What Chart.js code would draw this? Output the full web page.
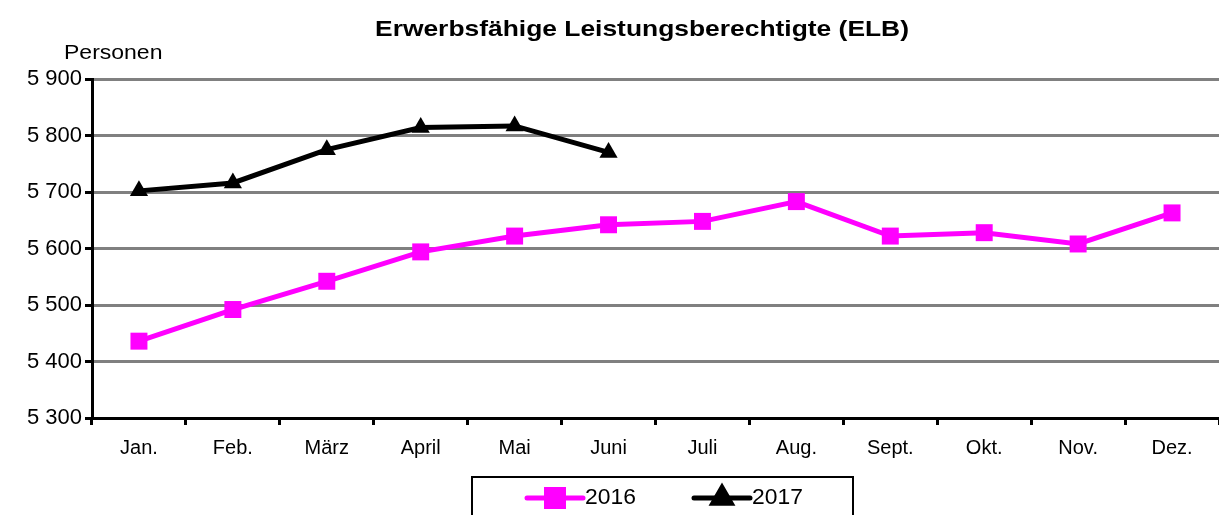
<!DOCTYPE html>
<html>
<head>
<meta charset="utf-8">
<script src="https://cdn.jsdelivr.net/npm/chart.js@4"></script>
<style>
  html, body { margin: 0; padding: 0; background: #fff; }
  canvas { display: block; }
</style>
</head>
<body>
<canvas id="chart" width="1219" height="515"></canvas>
<script>
const months = ['Jan.', 'Feb.', 'März', 'April', 'Mai', 'Juni', 'Juli', 'Aug.', 'Sept.', 'Okt.', 'Nov.', 'Dez.'];
const elb2016 = [5436, 5492, 5542, 5594, 5622, 5642, 5648, 5683, 5622, 5628, 5608, 5663];
const elb2017 = [5702, 5716, 5775, 5814, 5817, 5770];
const seriesNames = ['2016', '2017'];
const chartTitle = 'Erwerbsfähige Leistungsberechtigte (ELB)';
const yAxisTitle = 'Personen';

const FONT = 'Arial, "Liberation Sans", sans-serif';
const PINK = '#ff00ff';

// stretched text, the original export is wider than tall
function wideText(ctx, text, x, y, font, sx, align) {
  ctx.save();
  ctx.font = font;
  ctx.textAlign = align;
  ctx.translate(x, y);
  ctx.scale(sx, 1);
  ctx.fillText(text, 0, 0);
  ctx.restore();
}

// title, unit label and the framed legend are drawn by hand
const extras = {
  id: 'extras',
  afterDraw(chart) {
    const ctx = chart.ctx;
    ctx.save();
    ctx.fillStyle = '#000';
    ctx.textBaseline = 'middle';

    wideText(ctx, chartTitle, 642, 30, 'bold 22px ' + FONT, 1.2, 'center');
    wideText(ctx, yAxisTitle, 64, 53, '20px ' + FONT, 1.15, 'left');

    // legend frame
    ctx.strokeStyle = '#000';
    ctx.lineWidth = 2;
    ctx.strokeRect(472, 477, 381, 50);

    const items = [
      { x: 527, color: PINK, style: 'rect', radius: 12 },
      { x: 694, color: '#000', style: 'triangle', radius: 10.5 }
    ];
    items.forEach((it, i) => {
      const y = 498;
      ctx.strokeStyle = it.color;
      ctx.lineWidth = 5;
      ctx.lineCap = 'round';
      ctx.beginPath();
      ctx.moveTo(it.x, y);
      ctx.lineTo(it.x + 56, y);
      ctx.stroke();
      Chart.helpers.drawPoint(ctx, {
        pointStyle: it.style, radius: it.radius, borderWidth: 1
      }, it.x + 28, y);
      ctx.fillStyle = it.color;
      ctx.fill();
      ctx.fillStyle = '#000';
      wideText(ctx, seriesNames[i], it.x + 58, y, '22px ' + FONT, 1.04, 'left');
    });
    ctx.restore();
  }
};

const fmt = v => {
  const s = String(v);
  return s.slice(0, s.length - 3) + ' ' + s.slice(-3);
};

new Chart(document.getElementById('chart'), {
  type: 'line',
  data: {
    labels: months,
    datasets: [
      {
        label: seriesNames[0],
        data: elb2016,
        borderColor: PINK,
        backgroundColor: PINK,
        borderWidth: 5,
        pointStyle: 'rect',
        pointRadius: 12,
        pointBorderWidth: 0,
        tension: 0
      },
      {
        label: seriesNames[1],
        data: elb2017,
        borderColor: '#000',
        backgroundColor: '#000',
        borderWidth: 5,
        pointStyle: 'triangle',
        pointRadius: 10.5,
        pointBorderWidth: 0,
        tension: 0
      }
    ]
  },
  options: {
    responsive: false,
    animation: false,
    layout: { autoPadding: false, padding: { top: 79, left: 0, right: 0, bottom: 0 } },
    plugins: {
      legend: { display: false },
      title: { display: false },
      tooltip: { enabled: false }
    },
    scales: {
      x: {
        offset: true,
        afterFit: scale => { scale.height = 97; },
        grid: {
          offset: true,
          drawOnChartArea: false,
          tickColor: '#000',
          tickWidth: 3,
          tickLength: 7
        },
        border: { color: '#000', width: 3 },
        ticks: {
          color: '#000',
          padding: 11,
          font: { family: FONT, size: 20 },
          maxRotation: 0
        }
      },
      y: {
        min: 5300,
        max: 5900,
        afterFit: scale => { scale.width = 92; },
        grid: {
          color: '#808080',
          lineWidth: 3,
          tickColor: '#000',
          tickWidth: 3,
          tickLength: 7
        },
        border: { color: '#000', width: 3 },
        ticks: {
          stepSize: 100,
          color: '#000',
          padding: 3,
          font: { family: FONT, size: 22 },
          callback: v => fmt(v)
        }
      }
    }
  },
  plugins: [extras]
});
</script>
</body>
</html>
